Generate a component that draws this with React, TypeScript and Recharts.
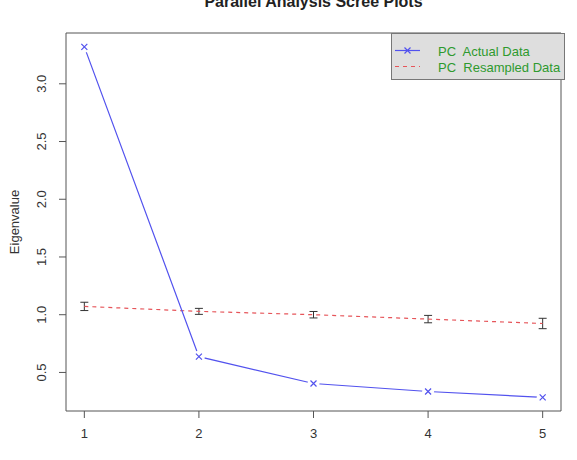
import React from "react";
import {
  ComposedChart,
  ErrorBar,
  Legend,
  Line,
  ReferenceArea,
  XAxis,
  YAxis,
} from "recharts";

// parallel analysis values
const components = [1, 2, 3, 4, 5];
const actualEigen = [3.32, 0.637, 0.404, 0.335, 0.284];
const resampledEigen = [1.072, 1.029, 1.0, 0.962, 0.924];
const resampledError = [0.036, 0.026, 0.028, 0.032, 0.045];
const xTicks = [1, 2, 3, 4, 5];
const yTicks = [0.5, 1.0, 1.5, 2.0, 2.5, 3.0];

const X_DOMAIN: [number, number] = [0.84, 5.16];
const Y_DOMAIN: [number, number] = [0.166, 3.44];

const FONT = "'Liberation Sans', Arial, Helvetica, sans-serif";
const BLUE = "#5252ee";
const RED = "#e6555a";
const GREEN = "#2e9a2e";
const AXIS = "#555";

const data = components.map((pc, i) => ({
  pc,
  actual: actualEigen[i],
  resampled: resampledEigen[i],
  err: resampledError[i],
}));

// R style "b" points: a cross with a small gap cut out of the line
function CrossDot(props: any) {
  const { cx, cy } = props;
  if (cx == null || cy == null) return null;
  const s = 3;
  return (
    <g>
      <circle cx={cx} cy={cy} r={6} fill="#fff" />
      <path
        d={`M${cx - s},${cy - s}L${cx + s},${cy + s}M${cx - s},${cy + s}L${cx + s},${cy - s}`}
        stroke={BLUE}
        strokeWidth={1.2}
      />
    </g>
  );
}

function YTick(props: any) {
  const { y, payload } = props;
  const x = 46;
  return (
    <text
      x={x}
      y={y}
      transform={`rotate(-90, ${x}, ${y})`}
      textAnchor="middle"
      fontSize={13}
      fontFamily={FONT}
      fill="#333"
    >
      {Number(payload.value).toFixed(1)}
    </text>
  );
}

function LegendBox() {
  return (
    <svg width={174} height={47} style={{ display: "block" }}>
      <rect x={0.5} y={0.5} width={173} height={46} fill="#dedede" stroke="#777" />
      <line x1={4} x2={29} y1={17.5} y2={17.5} stroke={BLUE} strokeWidth={1.2} />
      <path d="M13.5,14.5L19.5,20.5M13.5,20.5L19.5,14.5" stroke={BLUE} strokeWidth={1.2} />
      <line x1={4} x2={29} y1={33.5} y2={33.5} stroke={RED} strokeWidth={1.2} strokeDasharray="4 4" />
      <text x={47} y={22.5} fontSize={13} fontFamily={FONT} fill={GREEN} xmlSpace="preserve">
        PC  Actual Data
      </text>
      <text x={47} y={38.5} fontSize={13} fontFamily={FONT} fill={GREEN} xmlSpace="preserve">
        PC  Resampled Data
      </text>
    </svg>
  );
}

export default function App() {
  return (
    <div style={{ position: "absolute", left: 0, top: 0, width: 577, height: 460, background: "#fff" }}>
      <div
        style={{
          position: "absolute",
          top: -7,
          left: 66,
          width: 495,
          textAlign: "center",
          fontFamily: FONT,
          fontWeight: "bold",
          fontSize: 16,
          color: "#222",
          lineHeight: "18px",
        }}
      >
        Parallel Analysis Scree Plots
      </div>
      <ComposedChart
        width={577}
        height={460}
        data={data}
        margin={{ top: 33, right: 16, bottom: 0, left: 0 }}
      >
        <XAxis
          type="number"
          dataKey="pc"
          domain={X_DOMAIN}
          ticks={xTicks}
          allowDataOverflow
          axisLine={false}
          tickSize={7}
          tickMargin={11}
          tickLine={{ stroke: AXIS }}
          tick={{ fontSize: 13, fontFamily: FONT, fill: "#333" }}
          height={49}
        />
        <YAxis
          type="number"
          domain={Y_DOMAIN}
          ticks={yTicks}
          allowDataOverflow
          axisLine={false}
          tickSize={7}
          tickLine={{ stroke: AXIS }}
          tick={<YTick />}
          width={66}
          label={{
            content: () => (
              <text
                x={19}
                y={222}
                transform="rotate(-90, 19, 222)"
                textAnchor="middle"
                fontSize={13}
                fontFamily={FONT}
                fill="#333"
              >
                Eigenvalue
              </text>
            ),
          }}
        />
        <ReferenceArea
          x1={X_DOMAIN[0]}
          x2={X_DOMAIN[1]}
          y1={Y_DOMAIN[0]}
          y2={Y_DOMAIN[1]}
          fill="none"
          stroke={AXIS}
          strokeWidth={1}
        />
        <Line
          type="linear"
          dataKey="resampled"
          stroke={RED}
          strokeWidth={1.2}
          strokeDasharray="4 4"
          dot={false}
          activeDot={false}
          isAnimationActive={false}
        >
          <ErrorBar dataKey="err" direction="y" width={4} stroke="#333" strokeWidth={1} />
        </Line>
        <Line
          type="linear"
          dataKey="actual"
          stroke={BLUE}
          strokeWidth={1.2}
          dot={<CrossDot />}
          activeDot={false}
          isAnimationActive={false}
        />
        <Legend
          layout="horizontal"
          verticalAlign="middle"
          align="center"
          wrapperStyle={{ position: "absolute", top: 33, left: 391, width: 174, height: 47 }}
          content={() => <LegendBox />}
        />
      </ComposedChart>
    </div>
  );
}
